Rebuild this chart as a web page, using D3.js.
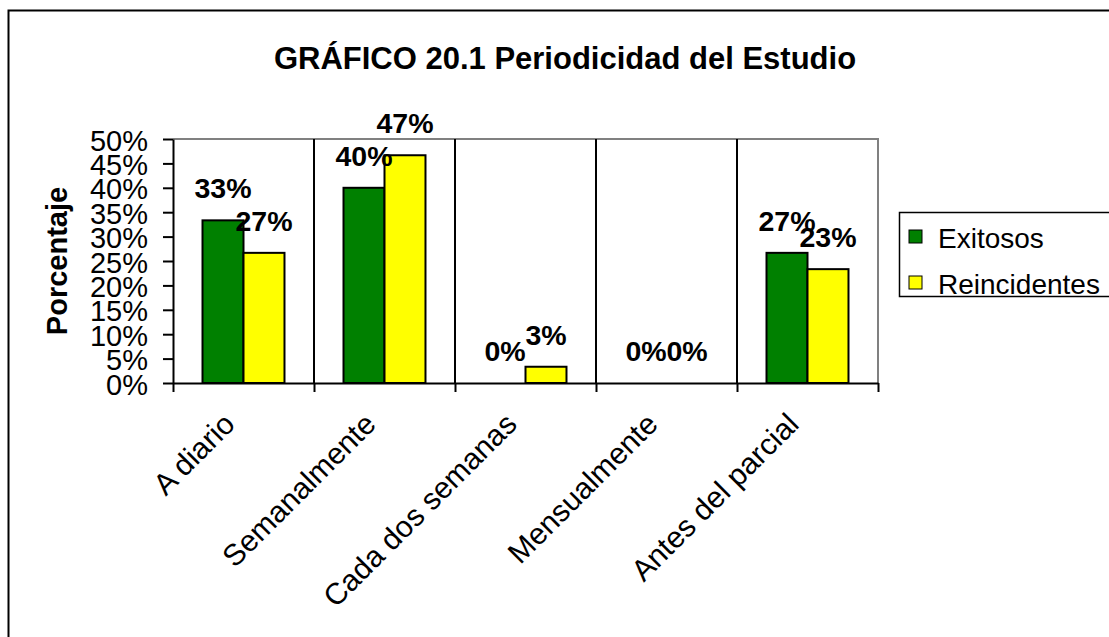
<!DOCTYPE html>
<html>
<head>
<meta charset="utf-8">
<script src="https://cdn.jsdelivr.net/npm/d3@7"></script>
<style>
  html, body { margin: 0; padding: 0; background: #fff; }
  svg { display: block; font-family: "Liberation Sans", Arial, sans-serif; }
</style>
</head>
<body>
<main></main>
<script>
const categories = ["A diario", "Semanalmente", "Cada dos semanas", "Mensualmente", "Antes del parcial"]
const seriesNames = ["Exitosos", "Reincidentes"]
const exitosos = [0.3333, 0.40, 0.0, 0.0, 0.2667]
const reincidentes = [0.2667, 0.4667, 0.0333, 0.0, 0.2333]
const yTicks = [0, 0.05, 0.10, 0.15, 0.20, 0.25, 0.30, 0.35, 0.40, 0.45, 0.50]
const colors = ["#008000", "#ffff00"]

const width = 1109
const height = 637
const plot = { left: 173, right: 878, top: 139, bottom: 383 }

let svg = d3.select("main")
    .append("svg")
    .attr("width", width)
    .attr("height", height)

// outer chart frame (runs off the right and bottom edge)
svg.append("rect")
    .attr("x", 8.5).attr("y", 10.5)
    .attr("width", 1200).attr("height", 700)
    .attr("fill", "#fff")
    .attr("stroke", "#000")
    .attr("stroke-width", 2)

svg.append("text")
    .attr("x", 565).attr("y", 69)
    .attr("text-anchor", "middle")
    .attr("font-size", 31)
    .attr("font-weight", "bold")
    .text("GRÁFICO 20.1 Periodicidad del Estudio")

let x0 = d3.scaleBand()
    .domain(categories)
    .range([plot.left, plot.right])

let x1 = d3.scaleBand()
    .domain(seriesNames)
    .range([0, x0.bandwidth()])
    .paddingInner(0)
    .paddingOuter(0.72)

let xEdge = d3.scaleLinear()
    .domain([0, categories.length])
    .range([plot.left, plot.right])

let y = d3.scaleLinear()
    .domain([0, 0.5])
    .range([plot.bottom, plot.top])

// plot border (grey top + right)
svg.append("path")
    .attr("d", `M${plot.left},${plot.top}H${plot.right}V${plot.bottom}`)
    .attr("fill", "none")
    .attr("stroke", "#808080")
    .attr("stroke-width", 2)

// vertical category gridlines
svg.append("g")
    .selectAll("line")
    .data(d3.range(1, categories.length))
    .enter()
    .append("line")
    .attr("x1", d => xEdge(d)).attr("x2", d => xEdge(d))
    .attr("y1", plot.top).attr("y2", plot.bottom)
    .attr("stroke", "#000")
    .attr("stroke-width", 2)

let rows = categories.map((c, i) => ({ cat: c, values: [exitosos[i], reincidentes[i]] }))

let groups = svg.append("g")
    .selectAll("g")
    .data(rows)
    .enter()
    .append("g")
    .attr("transform", d => `translate(${x0(d.cat)},0)`)

groups.selectAll("rect")
    .data(d => d.values.map((v, j) => ({ name: seriesNames[j], v: v, j: j })))
    .enter()
    .filter(d => d.v > 0)
    .append("rect")
    .attr("x", d => x1(d.name))
    .attr("y", d => y(d.v))
    .attr("width", x1.bandwidth())
    .attr("height", d => y(0) - y(d.v))
    .attr("fill", d => colors[d.j])
    .attr("stroke", "#000")
    .attr("stroke-width", 2)

groups.selectAll("text")
    .data(d => d.values.map((v, j) => ({ name: seriesNames[j], v: v })))
    .enter()
    .append("text")
    .attr("x", d => x1(d.name) + x1.bandwidth() / 2)
    .attr("y", d => y(d.v) - 22)
    .attr("text-anchor", "middle")
    .attr("font-size", 28.5)
    .attr("font-weight", "bold")
    .text(d => d3.format(".0%")(d.v))

// y axis
let yAxis = svg.append("g")
    .attr("transform", `translate(${plot.left},0)`)
    .call(d3.axisLeft(y).tickValues(yTicks).tickFormat(d3.format(".0%")).tickSize(10).tickSizeOuter(0).tickPadding(15))
yAxis.select(".domain").attr("stroke", "#000").attr("stroke-width", 2)
yAxis.selectAll(".tick line").attr("stroke", "#000").attr("stroke-width", 2)
yAxis.selectAll(".tick text")
    .attr("font-size", 29)
    .attr("dy", "0.38em")
    .attr("font-family", "Liberation Sans, Arial, sans-serif")
    .attr("fill", "#000")

// x axis with ticks on the category edges
let xAxis = svg.append("g")
    .attr("transform", `translate(0,${plot.bottom})`)
    .call(d3.axisBottom(xEdge).tickValues(d3.range(0, categories.length + 1)).tickFormat("").tickSize(9).tickSizeOuter(0))
xAxis.select(".domain").attr("stroke", "#000").attr("stroke-width", 2)
xAxis.selectAll(".tick line").attr("stroke", "#000").attr("stroke-width", 2)

svg.append("g")
    .selectAll("text")
    .data(categories)
    .enter()
    .append("text")
    .attr("transform", d => `translate(${x0(d) + x0.bandwidth() / 2 - 7},${plot.bottom + 43}) rotate(-45)`)
    .attr("text-anchor", "end")
    .attr("font-size", 30)
    .text(d => d)

svg.append("text")
    .attr("transform", `translate(67,${(plot.top + plot.bottom) / 2}) rotate(-90)`)
    .attr("text-anchor", "middle")
    .attr("font-size", 29)
    .attr("font-weight", "bold")
    .text("Porcentaje")

// legend
let legend = svg.append("g")
legend.append("rect")
    .attr("x", 899.5).attr("y", 212.5)
    .attr("width", 230).attr("height", 84)
    .attr("fill", "#fff")
    .attr("stroke", "#000")
    .attr("stroke-width", 1.5)

let items = legend.selectAll("g.item")
    .data(seriesNames)
    .enter()
    .append("g")
    .attr("class", "item")
    .attr("transform", (d, i) => `translate(909,${230 + i * 46})`)
items.append("rect")
    .attr("width", 13).attr("height", 13)
    .attr("fill", (d, i) => colors[i])
    .attr("stroke", "#000")
    .attr("stroke-width", 1)
items.append("text")
    .attr("x", 29).attr("y", 18)
    .attr("font-size", 28)
    .text(d => d)
</script>
</body>
</html>
